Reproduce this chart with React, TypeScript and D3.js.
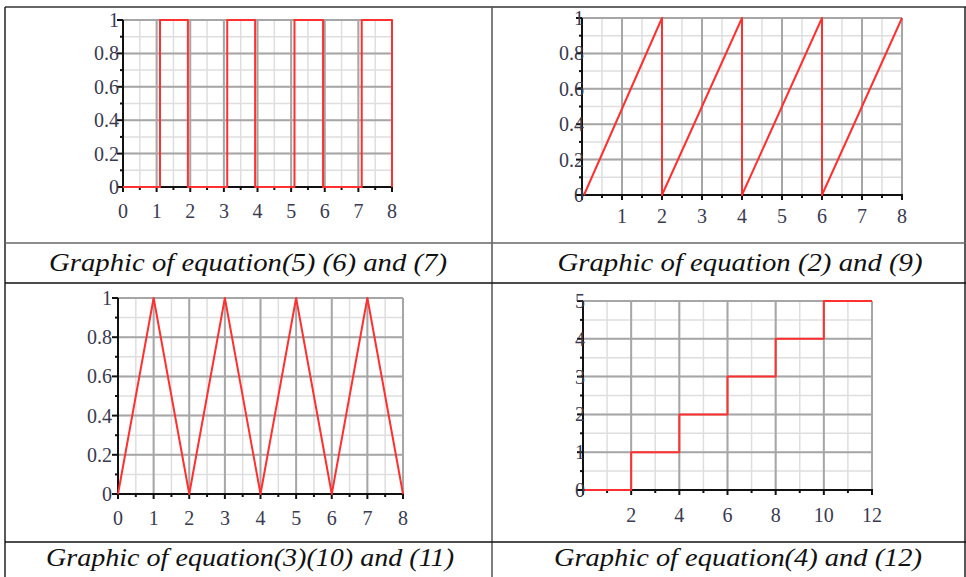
import React from 'react'
import * as d3 from 'd3'

// values
const pulseX = [0, 1.1, 1.1, 1.93, 1.93, 3.1, 3.1, 3.93, 3.93, 5.1, 5.1, 5.95, 5.95, 7.1, 7.1, 8, 8]
const pulseY = [0, 0, 1, 1, 0, 0, 1, 1, 0, 0, 1, 1, 0, 0, 1, 1, 0]
const sawX = [0.05, 2, 2, 4, 4, 6, 6, 8]
const sawY = [0, 1, 0, 1, 0, 1, 0, 1]
const triX = [0, 1, 2, 3, 4, 5, 6, 7, 8]
const triY = [0, 1, 0, 1, 0, 1, 0, 1, 0]
const stepX = [0, 2, 2, 4, 4, 6, 6, 8, 8, 10, 10, 12]
const stepY = [0, 0, 1, 1, 2, 2, 3, 3, 4, 4, 5, 5]

const unitTicks = [0, 0.2, 0.4, 0.6, 0.8, 1]
const unitLabels = ['0', '0.2', '0.4', '0.6', '0.8', '1']
const eightTicks = [0, 1, 2, 3, 4, 5, 6, 7, 8]
const sawXTicks = [1, 2, 3, 4, 5, 6, 7, 8]
const stepXTicks = [2, 4, 6, 8, 10, 12]
const stepYTicks = [0, 1, 2, 3, 4, 5]

const captions = [
  'Graphic of equation(5) (6) and (7)',
  'Graphic of equation (2) and (9)',
  'Graphic of equation(3)(10) and (11)',
  'Graphic of equation(4) and (12)',
]

const SERIF = "'Liberation Serif', 'Times New Roman', Times, serif"

type PanelProps = {
  box: [number, number, number, number] // left, right, top, bottom
  xMax: number
  yMax: number
  xMajor: number
  yMajor: number
  xTicks: number[]
  yTicks: number[]
  yLabels: string[]
  xs: number[]
  ys: number[]
  yLabelOff: number
  xLabelY: number
}

function Panel(p: PanelProps) {
  const [l, r, t, b] = p.box
  const x = d3.scaleLinear().domain([0, p.xMax]).range([l, r])
  const y = d3.scaleLinear().domain([0, p.yMax]).range([b, t])
  const xMinor = d3.range(0, p.xMax + 1e-9, p.xMajor / 2)
  const yMinor = d3.range(0, p.yMax + 1e-9, p.yMajor / 2)
  const xMaj = d3.range(0, p.xMax + 1e-9, p.xMajor)
  const yMaj = d3.range(0, p.yMax + 1e-9, p.yMajor)
  const pts = p.xs.map((v, i) => [v, p.ys[i]] as [number, number])
  const line = d3.line<[number, number]>().x(d => x(d[0])).y(d => y(d[1]))

  return (
    <g>
      {xMinor.map((v, i) => (
        <line key={'xm' + i} x1={x(v)} x2={x(v)} y1={t} y2={b} stroke="#dedede" strokeWidth={1.5} />
      ))}
      {yMinor.map((v, i) => (
        <line key={'ym' + i} x1={l} x2={r} y1={y(v)} y2={y(v)} stroke="#dedede" strokeWidth={1.5} />
      ))}
      {xMaj.map((v, i) => (
        <line key={'xM' + i} x1={x(v)} x2={x(v)} y1={t} y2={b} stroke="#a6a6a6" strokeWidth={2} />
      ))}
      {yMaj.map((v, i) => (
        <line key={'yM' + i} x1={l} x2={r} y1={y(v)} y2={y(v)} stroke="#a6a6a6" strokeWidth={2} />
      ))}
      {/* axes */}
      <line x1={l} x2={l} y1={t} y2={b + 1} stroke="#111" strokeWidth={2} />
      <line x1={l - 1} x2={r + 1} y1={b} y2={b} stroke="#111" strokeWidth={2} />
      {yMinor.map((v, i) => (
        <line key={'yt' + i} x1={l - (i % 2 === 0 ? 6 : 3)} x2={l} y1={y(v)} y2={y(v)} stroke="#111" strokeWidth={2} />
      ))}
      {xMinor.map((v, i) => (
        <line key={'xt' + i} x1={x(v)} x2={x(v)} y1={b} y2={b + (i % 2 === 0 ? 5 : 3)} stroke="#111" strokeWidth={2} />
      ))}
      <path d={line(pts) || ''} fill="none" stroke="#ff3030" strokeWidth={2} strokeLinejoin="round" />
      {p.yTicks.map((v, i) => (
        <text key={'yl' + i} x={l - p.yLabelOff} y={y(v)} dy="0.35em" textAnchor="end"
          fontFamily={SERIF} fontSize={20} fill="#3a3a50">{p.yLabels[i]}</text>
      ))}
      {p.xTicks.map((v, i) => (
        <text key={'xl' + i} x={x(v)} y={p.xLabelY} textAnchor="middle"
          fontFamily={SERIF} fontSize={20} fill="#3a3a50">{v}</text>
      ))}
    </g>
  )
}

export default function App() {
  const capStyle = { fontFamily: SERIF, fontStyle: 'italic', fontSize: 25, fill: '#111' }
  return (
    <svg width={966} height={577} style={{ position: 'absolute', left: 0, top: 0, background: '#fff' }}>
      <rect x={0} y={0} width={966} height={577} fill="#fff" />
      {/* table frame */}
      <line x1={5} x2={966} y1={7} y2={7} stroke="#666" strokeWidth={2} />
      <line x1={5} x2={5} y1={7} y2={577} stroke="#222" strokeWidth={1.5} />
      <line x1={965} x2={965} y1={7} y2={577} stroke="#222" strokeWidth={1.5} />
      <line x1={492} x2={492} y1={7} y2={577} stroke="#555" strokeWidth={1.5} />
      <line x1={5} x2={966} y1={243} y2={243} stroke="#666" strokeWidth={1.5} />
      <line x1={5} x2={966} y1={283} y2={283} stroke="#111" strokeWidth={1.5} />
      <line x1={5} x2={966} y1={542} y2={542} stroke="#111" strokeWidth={1.5} />

      <Panel box={[123, 392, 20, 187]} xMax={8} yMax={1} xMajor={1} yMajor={0.2}
        xTicks={eightTicks} yTicks={unitTicks} yLabels={unitLabels}
        xs={pulseX} ys={pulseY} yLabelOff={4} xLabelY={218} />
      <Panel box={[582, 902, 18, 195]} xMax={8} yMax={1} xMajor={1} yMajor={0.2}
        xTicks={sawXTicks} yTicks={unitTicks} yLabels={unitLabels}
        xs={sawX} ys={sawY} yLabelOff={-2} xLabelY={223} />
      <Panel box={[118, 403, 298, 494]} xMax={8} yMax={1} xMajor={1} yMajor={0.2}
        xTicks={eightTicks} yTicks={unitTicks} yLabels={unitLabels}
        xs={triX} ys={triY} yLabelOff={6} xLabelY={525} />
      <Panel box={[583, 872, 301, 490]} xMax={12} yMax={5} xMajor={2} yMajor={1}
        xTicks={stepXTicks} yTicks={stepYTicks} yLabels={stepYTicks.map(String)}
        xs={stepX} ys={stepY} yLabelOff={-2} xLabelY={522} />

      <text x={248} y={271} textAnchor="middle" style={capStyle} textLength={398} lengthAdjust="spacingAndGlyphs">{captions[0]}</text>
      <text x={740} y={271} textAnchor="middle" style={capStyle} textLength={365} lengthAdjust="spacingAndGlyphs">{captions[1]}</text>
      <text x={250} y={566} textAnchor="middle" style={capStyle} textLength={408} lengthAdjust="spacingAndGlyphs">{captions[2]}</text>
      <text x={738} y={566} textAnchor="middle" style={capStyle} textLength={368} lengthAdjust="spacingAndGlyphs">{captions[3]}</text>
    </svg>
  )
}
